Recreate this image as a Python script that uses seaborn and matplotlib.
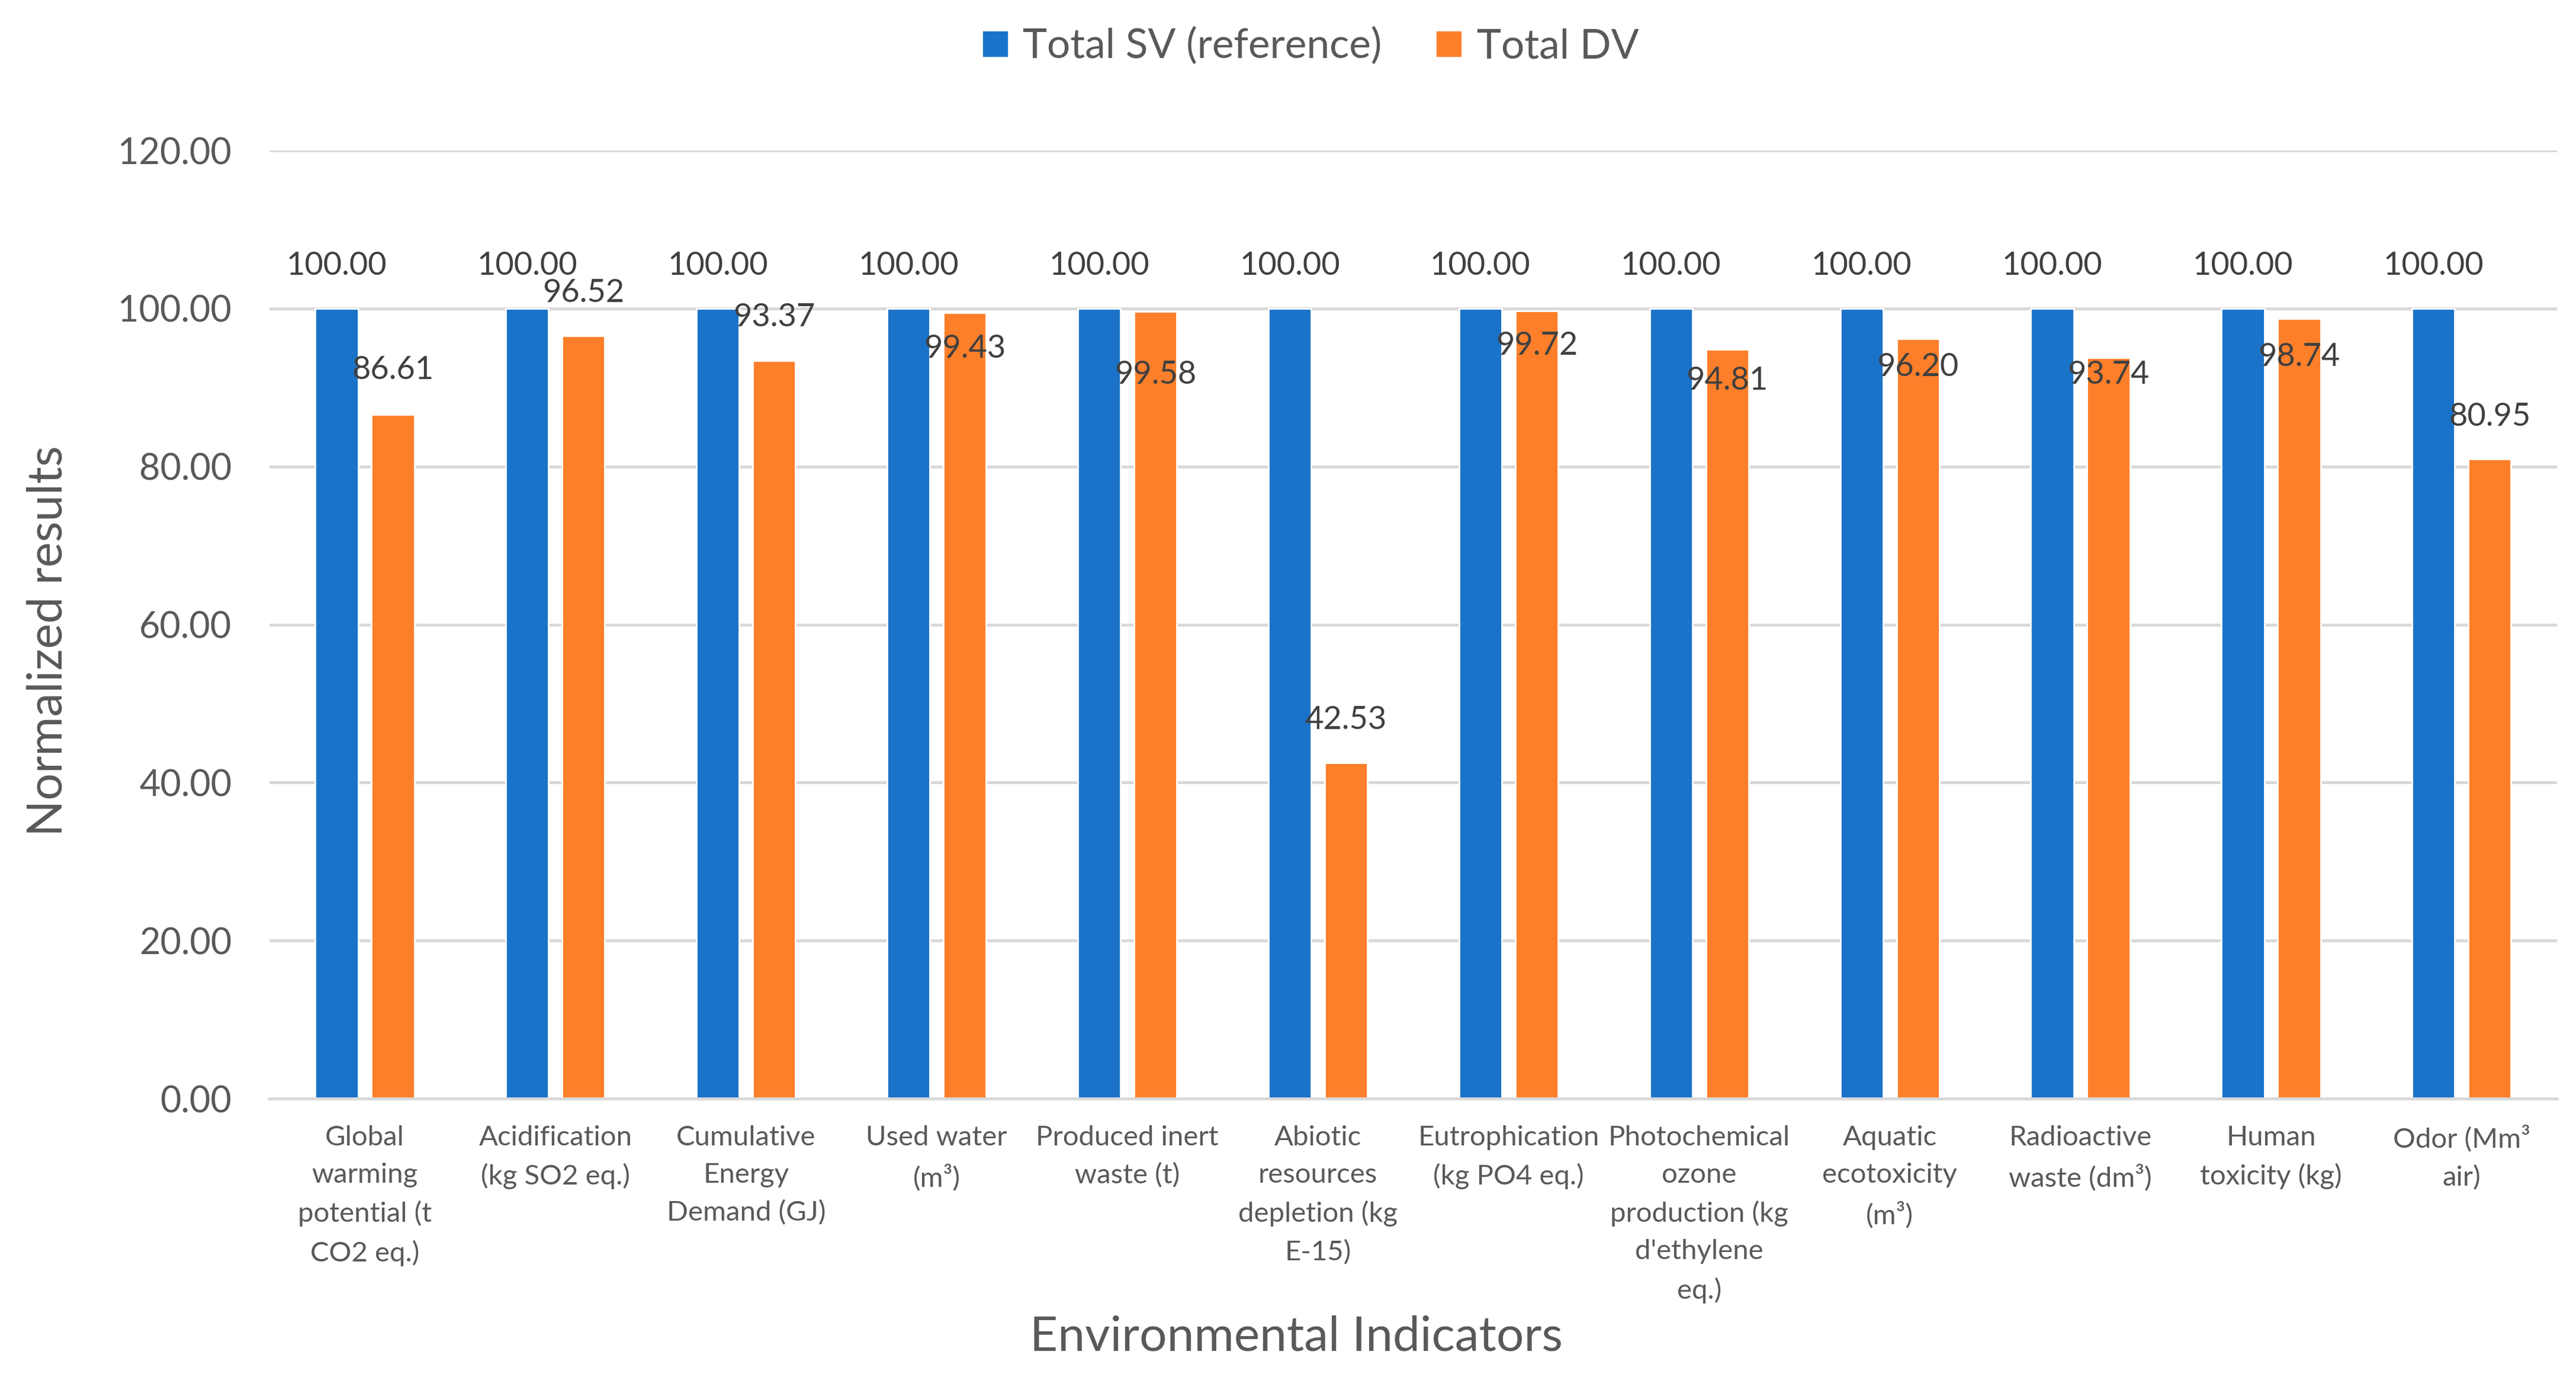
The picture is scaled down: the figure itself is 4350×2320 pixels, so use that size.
import pandas as pd
import matplotlib.pyplot as plt
import seaborn as sns

# data
categories = [
    "Global\nwarming\npotential (t\nCO2 eq.)",
    "Acidification\n(kg SO2 eq.)",
    "Cumulative\nEnergy\nDemand (GJ)",
    "Used water\n(m³)",
    "Produced inert\nwaste (t)",
    "Abiotic\nresources\ndepletion (kg\nE-15)",
    "Eutrophication\n(kg PO4 eq.)",
    "Photochemical\nozone\nproduction (kg\nd'ethylene\neq.)",
    "Aquatic\necotoxicity\n(m³)",
    "Radioactive\nwaste (dm³)",
    "Human\ntoxicity (kg)",
    "Odor (Mm³\nair)",
]
sv_values = [100.00] * 12
dv_values = [86.61, 96.52, 93.37, 99.43, 99.58, 42.53, 99.72, 94.81, 96.20, 93.74, 98.74, 80.95]
series_names = ["Total SV (reference)", "Total DV"]

# where the data labels sit in the original (placed by hand there)
sv_label_pos = [105.4] * 12
dv_label_pos = [92.2, 102.0, 98.9, 94.9, 91.6, 47.9, 95.3, 90.9, 92.6, 91.6, 93.9, 86.3]

df = pd.DataFrame(
    {
        "Category": categories * 2,
        "Value": sv_values + dv_values,
        "Series": [series_names[0]] * 12 + [series_names[1]] * 12,
    }
)

sns.set_theme(style="white")
plt.rcParams["font.family"] = ["Lato", "DejaVu Sans"]
grey = "#595959"

fig, ax = plt.subplots(figsize=(21.75, 11.6), dpi=200)
fig.subplots_adjust(left=0.1046, right=0.9926, bottom=0.2004, top=0.8905)

sns.barplot(
    data=df,
    x="Category",
    y="Value",
    hue="Series",
    palette=["#1A73C9", "#FE7F2A"],
    saturation=1,
    width=0.59,
    gap=0.24,
    ax=ax,
    zorder=3,
)

# data labels centred on each bar
for i in range(len(categories)):
    ax.text(i - 0.1475, sv_label_pos[i], f"{sv_values[i]:.2f}", ha="center", va="center",
            fontsize=19.5, color="#404040", zorder=4)
    ax.text(i + 0.1475, dv_label_pos[i], f"{dv_values[i]:.2f}", ha="center", va="center",
            fontsize=19.5, color="#404040", zorder=4)

ax.set_ylim(0, 120)
ax.set_xlim(-0.5, len(categories) - 0.5)
ax.set_yticks(range(0, 121, 20))
ax.set_yticklabels([f"{v:.2f}" for v in range(0, 121, 20)])
ax.yaxis.grid(True, color="#D9D9D9", linewidth=1.8, zorder=0)
ax.xaxis.grid(False)

for s in ["top", "right", "left"]:
    ax.spines[s].set_visible(False)
ax.spines["bottom"].set_color("#D9D9D9")
ax.spines["bottom"].set_linewidth(1.8)
ax.spines["bottom"].set_zorder(5)

ax.tick_params(axis="y", length=0, pad=23, labelsize=22, labelcolor=grey)
ax.tick_params(axis="x", which="major", length=0, pad=16, labelsize=17, labelcolor=grey)
ax.set_xticks([i - 0.5 for i in range(len(categories) + 1)], minor=True)
ax.tick_params(axis="x", which="minor", length=10, width=1.8, color="#D9D9D9", direction="out")
for lab in ax.get_xticklabels():
    lab.set_linespacing(1.62)
    lab.set_va("top")

ax.set_ylabel("Normalized results", fontsize=29, color=grey)
ax.yaxis.set_label_coords(-0.087, 0.483)
ax.set_xlabel("Environmental Indicators", fontsize=29.5, color=grey)
ax.xaxis.set_label_coords(0.449, -0.228)

ax.legend(
    loc="center",
    bbox_to_anchor=(0.455, 1.11),
    ncol=2,
    frameon=False,
    fontsize=25,
    labelcolor=grey,
    handlelength=0.65,
    handleheight=0.65,
    handletextpad=0.35,
    columnspacing=1.3,
    title=None,
)

fig.savefig("out.png", dpi=200)
